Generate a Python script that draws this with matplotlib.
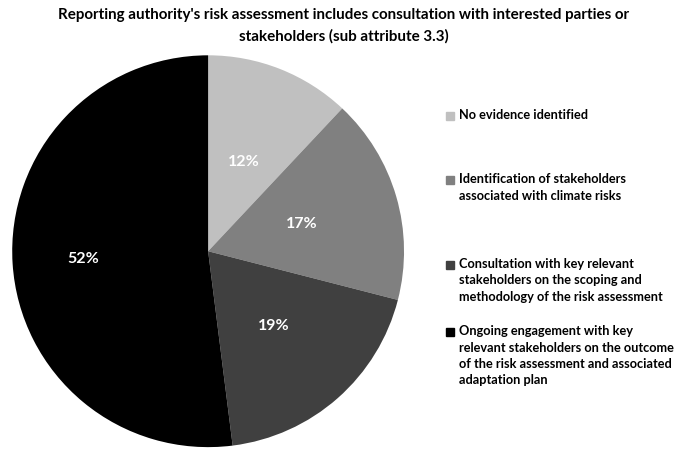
import matplotlib.pyplot as plt
import numpy as np
from matplotlib.patches import Rectangle

plt.rcParams['font.family'] = ['Lato', 'DejaVu Sans']

categories = [
    'No evidence identified',
    'Identification of stakeholders\nassociated with climate risks',
    'Consultation with key relevant\nstakeholders on the scoping and\nmethodology of the risk assessment',
    'Ongoing engagement with key\nrelevant stakeholders on the outcome\nof the risk assessment and associated\nadaptation plan',
]
shares = [12, 17, 19, 52]
colors = ['#c0c0c0', '#808080', '#404040', '#000000']

fig = plt.figure(figsize=(6.88, 4.49), dpi=100)
ax = fig.add_axes([0.016, 0.002, 0.573, 0.877])

wedges, texts, autotexts = ax.pie(
    shares, colors=colors, startangle=90, counterclock=False,
    autopct='%d%%', pctdistance=0.5,
    textprops=dict(color='white', fontweight='bold', fontsize=11.5))

# push the big slice's label further out
dists = [0.49, 0.5, 0.51, 0.64]
for w, t, d in zip(wedges, autotexts, dists):
    ang = np.deg2rad((w.theta1 + w.theta2) / 2)
    t.set_position((d * np.cos(ang), d * np.sin(ang)))
ax.set_xlim(-1.005, 1.005)
ax.set_ylim(-1.005, 1.005)
ax.set_aspect('equal')

fig.suptitle("Reporting authority's risk assessment includes consultation with interested parties or\n"
             "stakeholders (sub attribute 3.3)",
             x=0.5, y=0.982, fontsize=10.9, fontweight='bold', linespacing=1.6)

# legend drawn by hand on the right
tops = [109, 173, 258, 325]
W, H = 688, 449
for lbl, col, top in zip(categories, colors, tops):
    fig.patches.append(Rectangle((446 / W, 1 - (top + 11) / H), 8 / W, 8 / H,
                                 transform=fig.transFigure, color=col))
    fig.text(459 / W, 1 - top / H, lbl, fontsize=9.2, fontweight='bold',
             va='top', ha='left', linespacing=1.45)

plt.savefig('out.png', dpi=100)
